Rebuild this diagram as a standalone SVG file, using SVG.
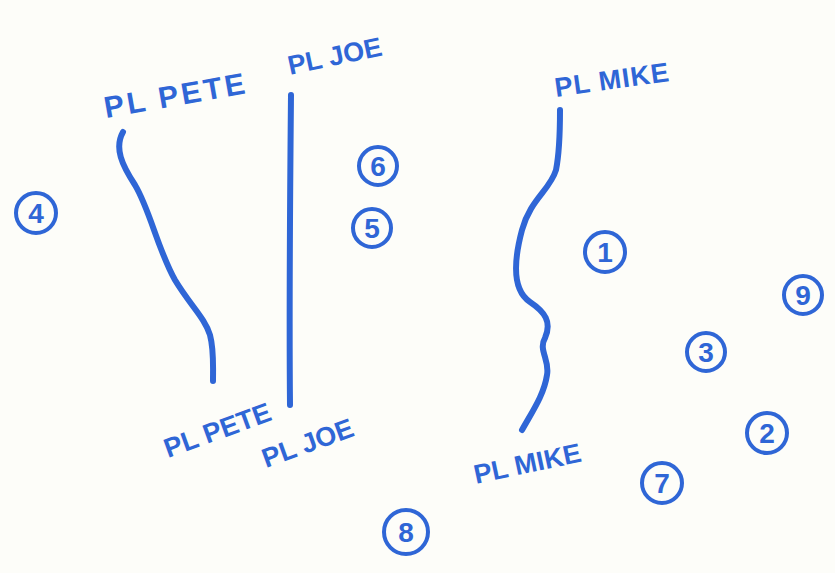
<svg xmlns="http://www.w3.org/2000/svg" width="835" height="573" viewBox="0 0 835 573">
<style>
.bg{fill:#fdfdf9}
.ln{fill:none;stroke:#2f66d6;stroke-width:6;stroke-linecap:round;stroke-linejoin:round}
.lbl{font-family:"Liberation Sans",Arial,sans-serif;font-weight:bold;font-size:27px;fill:#2f66d6}
.c{fill:none;stroke:#2f66d6;stroke-width:4}
.n{font-family:"Liberation Sans",Arial,sans-serif;font-weight:bold;font-size:28px;fill:#2f66d6;text-anchor:middle}
</style>
<rect class="bg" width="835" height="573"/>
<g id="connectors">
<path class="ln" d="M123,132 C114,148 122,165 135,185 C150,210 158,250 175,280 C190,305 205,318 210,335 C214,350 213,365 213,381"/>
<path class="ln" d="M291,95 C290,200 289,300 290,405"/>
<path class="ln" d="M560,110 C560,130 560,150 556,170 C550,190 530,200 522,230 C514,260 512,290 530,302 C545,312 552,322 545,338 C538,350 550,360 547,375 C544,395 532,412 522,430"/>
</g>
<g id="pl-pete-top"><text class="lbl" style="font-size:30px;letter-spacing:3px" transform="translate(106,118) rotate(-10)">PL PETE</text></g>
<g id="pl-joe-top"><text class="lbl" transform="translate(290,75) rotate(-12)">PL JOE</text></g>
<g id="pl-mike-top"><text class="lbl" style="letter-spacing:1px" transform="translate(556,97) rotate(-8)">PL MIKE</text></g>
<g id="pl-pete-bottom"><text class="lbl" transform="translate(168,458) rotate(-20)">PL PETE</text></g>
<g id="pl-joe-bottom"><text class="lbl" transform="translate(266,468) rotate(-20)">PL JOE</text></g>
<g id="pl-mike-bottom"><text class="lbl" transform="translate(476,484) rotate(-12)">PL MIKE</text></g>
<g id="n4"><circle class="c" cx="36" cy="213" r="20"/><text class="n" x="36" y="223">4</text></g>
<g id="n6"><circle class="c" cx="378" cy="166" r="19"/><text class="n" x="378" y="176">6</text></g>
<g id="n5"><circle class="c" cx="372" cy="228" r="19"/><text class="n" x="372" y="238">5</text></g>
<g id="n1"><circle class="c" cx="605" cy="252" r="20"/><text class="n" x="605" y="262">1</text></g>
<g id="n9"><circle class="c" cx="803" cy="295" r="19"/><text class="n" x="803" y="305">9</text></g>
<g id="n3"><circle class="c" cx="706" cy="352" r="19"/><text class="n" x="706" y="362">3</text></g>
<g id="n2"><circle class="c" cx="767" cy="433" r="20"/><text class="n" x="767" y="443">2</text></g>
<g id="n7"><circle class="c" cx="662" cy="483" r="20"/><text class="n" x="662" y="493">7</text></g>
<g id="n8"><circle class="c" cx="406" cy="532" r="22"/><text class="n" x="406" y="542">8</text></g>
</svg>
